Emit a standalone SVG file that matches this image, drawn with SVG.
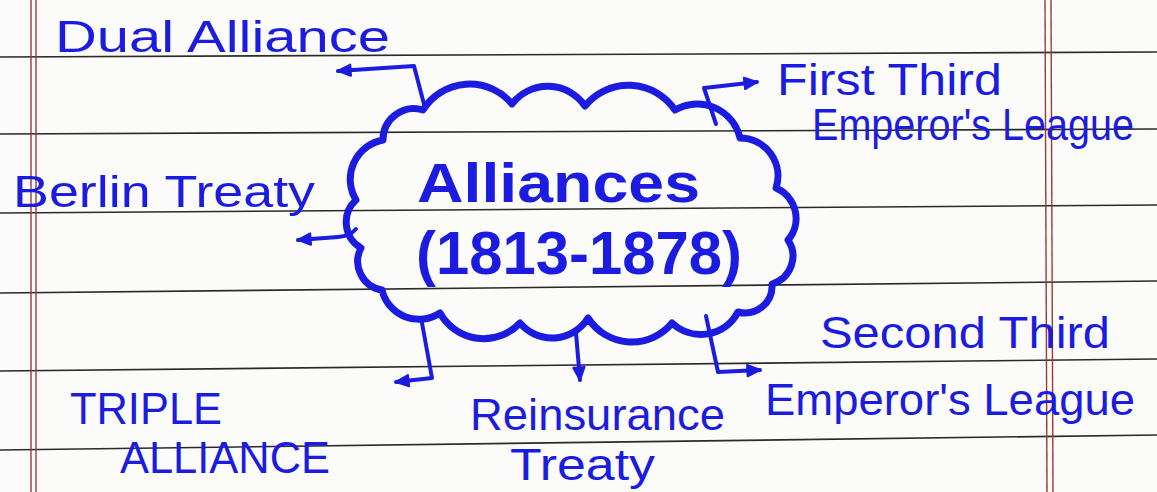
<svg xmlns="http://www.w3.org/2000/svg" width="1157" height="492" viewBox="0 0 1157 492">
<style>
.rule{stroke:#2a2a2a;stroke-width:1.6;fill:none}
.margin{stroke:#9a3a3a;stroke-width:1.4;fill:none}
.ink{fill:#1c1ce0;font-family:"Liberation Sans",Arial,sans-serif;font-size:44px}
.title{fill:#1c1ce0;font-family:"Liberation Sans",Arial,sans-serif;font-weight:bold}
.conn{stroke:#1c1ce0;stroke-width:4;fill:none;stroke-linejoin:round;stroke-linecap:round}
.cloud{stroke:#1c1ce0;stroke-width:7;fill:none;stroke-linejoin:round}
</style>
<defs>
<marker id="head" viewBox="0 0 10 10" refX="10" refY="5" markerWidth="14" markerHeight="14" markerUnits="userSpaceOnUse" orient="auto">
<path d="M1,1 L10,5 L1,9 z" fill="#1c1ce0" stroke="#1c1ce0" stroke-width="1.5" stroke-linejoin="round"/>
</marker>
</defs>
<rect width="1157" height="492" fill="#fbfbf9"/>
<g id="paper">
<line class="rule" x1="0" y1="57" x2="1157" y2="52"/>
<line class="rule" x1="0" y1="134" x2="1157" y2="129"/>
<line class="rule" x1="0" y1="213" x2="1157" y2="205"/>
<line class="rule" x1="0" y1="293" x2="1157" y2="281"/>
<line class="rule" x1="0" y1="371" x2="1157" y2="359"/>
<line class="rule" x1="0" y1="450" x2="1157" y2="435"/>
<line class="margin" x1="31" y1="0" x2="31" y2="492"/>
<line class="margin" x1="36" y1="0" x2="36" y2="492"/>
<line class="margin" x1="1045" y1="0" x2="1047" y2="492"/>
<line class="margin" x1="1051" y1="0" x2="1053" y2="492"/>
</g>
<g id="connectors">
<path class="conn" d="M425,108 L414,66 L338,71" marker-end="url(#head)"/>
<path class="conn" d="M716,124 L704,88 L757,82" marker-end="url(#head)"/>
<path class="conn" d="M356,229 Q350,236 338,237 L298,240" marker-end="url(#head)"/>
<path class="conn" d="M422,323 L432,378 L396,382" marker-end="url(#head)"/>
<path class="conn" d="M576,333 L580,380" marker-end="url(#head)"/>
<path class="conn" d="M706,316 L718,372 L760,370" marker-end="url(#head)"/>
</g>
<g id="center">
<path class="cloud" d="M383,140 A31,31 0 0 1 423,110 A55,55 0 0 1 512,104 A45,45 0 0 1 585,106 A56,56 0 0 1 675,110 A44,44 0 0 1 740,138 A38,38 0 0 1 776,188 A33,33 0 0 1 788,240 A29,29 0 0 1 772,284 A27,27 0 0 1 738,312 A42,42 0 0 1 672,323 A52,52 0 0 1 588,318 A42,42 0 0 1 520,323 A50,50 0 0 1 440,313 A38,38 0 0 1 382,290 A29,29 0 0 1 361,248 A30,30 0 0 1 356,200 A40,40 0 0 1 383,140 Z"/>
<text class="title" x="417" y="202" font-size="56" textLength="283" lengthAdjust="spacingAndGlyphs">Alliances</text>
<text class="title" x="416" y="274" font-size="62" textLength="326" lengthAdjust="spacingAndGlyphs">(1813-1878)</text>
</g>
<g id="dual-alliance">
<text class="ink" x="55" y="52" font-size="46" textLength="335" lengthAdjust="spacingAndGlyphs">Dual Alliance</text>
</g>
<g id="berlin-treaty">
<text class="ink" x="13" y="207" font-size="46" textLength="302" lengthAdjust="spacingAndGlyphs">Berlin Treaty</text>
</g>
<g id="first-third">
<text class="ink" x="777" y="95" font-size="42" textLength="225" lengthAdjust="spacingAndGlyphs">First Third</text>
<text class="ink" x="812" y="140" font-size="38" textLength="322" lengthAdjust="spacingAndGlyphs">Emperor's League</text>
</g>
<g id="triple-alliance">
<text class="ink" x="70" y="424" font-size="50" textLength="152" lengthAdjust="spacingAndGlyphs">TRIPLE</text>
<text class="ink" x="120" y="473" font-size="50" textLength="210" lengthAdjust="spacingAndGlyphs">ALLIANCE</text>
</g>
<g id="reinsurance-treaty">
<text class="ink" x="470" y="430" font-size="44" textLength="255" lengthAdjust="spacingAndGlyphs">Reinsurance</text>
<text class="ink" x="510" y="480" font-size="44" textLength="145" lengthAdjust="spacingAndGlyphs">Treaty</text>
</g>
<g id="second-third">
<text class="ink" x="820" y="348" font-size="44" textLength="290" lengthAdjust="spacingAndGlyphs">Second Third</text>
<text class="ink" x="765" y="415" font-size="44" textLength="370" lengthAdjust="spacingAndGlyphs">Emperor's League</text>
</g>
</svg>
